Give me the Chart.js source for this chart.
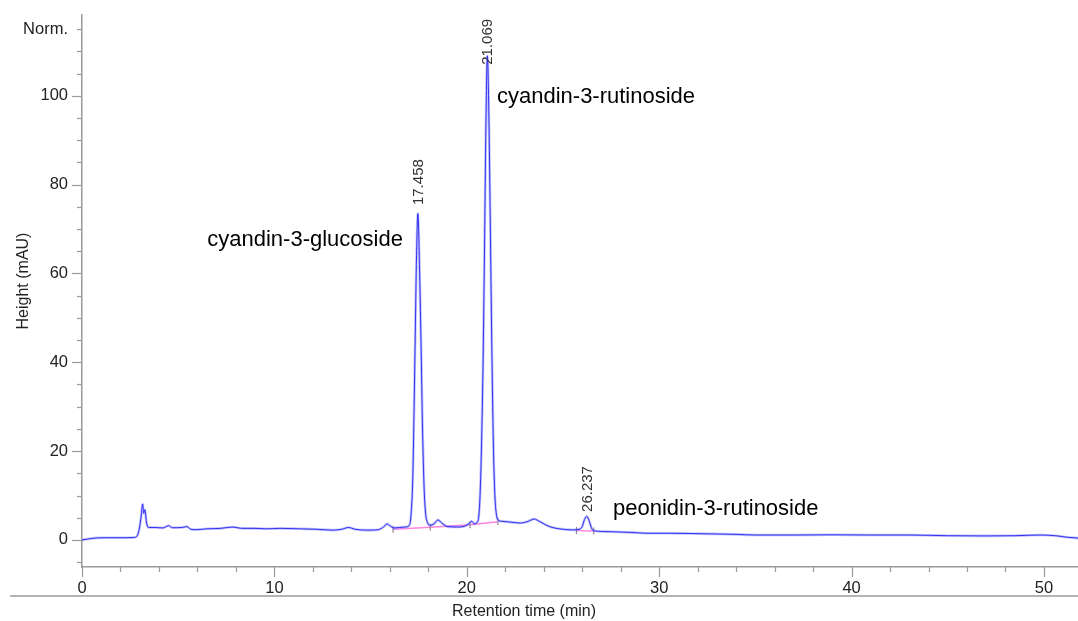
<!DOCTYPE html>
<html><head><meta charset="utf-8">
<script src="https://cdn.jsdelivr.net/npm/chart.js@4.4.1/dist/chart.umd.min.js"></script>
<style>html,body{margin:0;padding:0;background:#fff;} canvas{display:block;}</style>
</head><body>
<canvas id="c" width="1078" height="621"></canvas>
<script>
// Retention time (min)
const times = [0.0,0.3,0.8,1.5,2.2,2.7,2.85,2.98,3.08,3.15,3.21,3.27,3.35,3.45,3.8,4.2,4.5,4.7,5.2,5.45,5.65,5.9,6.5,7.2,7.85,8.3,9.0,9.6,10.3,11.3,12.2,13.0,13.5,13.85,14.2,14.8,15.4,15.7,15.85,16.0,16.2,16.5,16.8,17.0,17.1,17.2,17.3,17.38,17.46,17.54,17.62,17.7,17.78,17.86,17.95,18.1,18.3,18.5,18.7,19.0,19.5,19.9,20.15,20.25,20.4,20.52,20.6,20.68,20.76,20.84,20.92,21.0,21.07,21.14,21.22,21.3,21.38,21.46,21.55,21.65,21.8,22.3,22.8,23.2,23.5,23.8,24.3,24.8,25.5,25.85,26.0,26.12,26.24,26.36,26.5,26.7,27.5,28.5,29.4,30.5,31.5,32.8,34.0,35.0,37.0,39.0,41.0,43.0,45.0,47.0,48.5,49.8,50.6,51.2,51.8];
// Height (mAU)
const signal = [0.0,0.2,0.45,0.5,0.5,0.55,0.8,2.5,5.5,8.1,6.0,6.8,4.0,2.8,2.8,2.7,3.2,2.75,2.8,3.0,2.4,2.3,2.5,2.6,2.9,2.6,2.6,2.5,2.6,2.5,2.4,2.2,2.4,2.8,2.4,2.2,2.3,3.0,3.6,3.2,2.7,2.8,2.9,3.2,5.5,15,40,62,73.5,62,45,25,12,6,4,3.3,3.6,4.5,3.8,3.0,2.9,3.1,3.8,4.2,3.6,3.9,4.6,9,20,38,65,95,109,98,72,44,22,10,5.5,4.4,4.2,4.0,3.8,4.2,4.7,4.1,3.0,2.5,2.25,2.4,3.0,4.6,5.3,4.3,2.5,2.0,1.85,1.7,1.5,1.5,1.45,1.35,1.25,1.1,1.1,1.15,1.1,1.1,0.95,0.9,0.95,1.1,0.95,0.6,0.4];
// Integration baselines
const baseline1Times = [16.17,18.1,20.17,21.62];
const baseline1Values = [2.4,2.85,3.4,4.1];
const baseline2Times = [25.7,26.6];
const baseline2Values = [2.1,2.0];
const dropTimes = [16.17,18.1,20.17,21.62,25.7,26.6];
const dropValues = [2.4,2.85,3.4,4.1,2.1,2.0];
// Peaks
const peakTimes = [17.458,21.069,26.237];
const peakLabels = ['17.458','21.069','26.237'];
const compoundNames = ['cyandin-3-glucoside','cyandin-3-rutinoside','peonidin-3-rutinoside'];
// Tick labels
const xTickLabels = [0,10,20,30,40,50];
const yTickLabels = [0,20,40,60,80,100];
const yTopLabel = 'Norm.';
const xTitle = 'Retention time (min)';
const yTitle = 'Height (mAU)';

const FONT = '"Liberation Sans", Arial, sans-serif';
const pts = (xs, ys) => xs.map((t, i) => ({x: t, y: ys[i]}));
const isInt = v => Math.abs(v - Math.round(v)) < 1e-6;

const extras = {
  id: 'extras',
  afterDraw(chart) {
    const ctx = chart.ctx;
    const xs = chart.scales.x, ys = chart.scales.y;
    ctx.save();
    // tick marks
    ctx.strokeStyle = '#9a9a9a';
    ctx.lineWidth = 1.2;
    const axY = ys.bottom, axX = xs.left;
    xs.ticks.forEach(t => {
      const px = Math.round(xs.getPixelForValue(t.value)) + 0.5;
      const major = isInt(t.value) && xTickLabels.includes(Math.round(t.value));
      ctx.beginPath(); ctx.moveTo(px, axY); ctx.lineTo(px, axY + (major ? 10 : 5)); ctx.stroke();
    });
    ys.ticks.forEach(t => {
      const py = Math.round(ys.getPixelForValue(t.value)) + 0.5;
      const major = isInt(t.value) && yTickLabels.includes(Math.round(t.value));
      ctx.beginPath(); ctx.moveTo(axX, py); ctx.lineTo(axX - (major ? 10 : 5), py); ctx.stroke();
    });
    // separator line
    ctx.strokeStyle = '#b4b4b4';
    ctx.lineWidth = 2;
    ctx.beginPath(); ctx.moveTo(10, 596); ctx.lineTo(1078, 596); ctx.stroke();
    // axis titles
    ctx.fillStyle = '#222';
    ctx.font = '16px ' + FONT;
    ctx.textAlign = 'center'; ctx.textBaseline = 'middle';
    ctx.fillText(xTitle, 524, 612);
    ctx.save();
    ctx.translate(24, 281); ctx.rotate(-Math.PI / 2);
    ctx.fillText(yTitle, 0, 0);
    ctx.restore();
    // peak retention time labels (rotated)
    const peakLabelBase = [75.4, 107, 6.3];
    ctx.font = '15px ' + FONT;
    ctx.fillStyle = '#333';
    peakTimes.forEach((t, i) => {
      const px = xs.getPixelForValue(t) + 1;
      const py = ys.getPixelForValue(peakLabelBase[i]);
      ctx.save();
      ctx.translate(px, py); ctx.rotate(-Math.PI / 2);
      ctx.textAlign = 'left'; ctx.textBaseline = 'middle';
      ctx.fillText(peakLabels[i], 0, 0);
      ctx.restore();
    });
    // compound names
    const anchors = [[16.68, 67.6, 'right'], [21.57, 99.75, 'left'], [27.6, 7.0, 'left']];
    ctx.font = '22px ' + FONT;
    ctx.fillStyle = '#000';
    compoundNames.forEach((n, i) => {
      const [t, v, al] = anchors[i];
      ctx.textAlign = al; ctx.textBaseline = 'middle';
      ctx.fillText(n, xs.getPixelForValue(t), ys.getPixelForValue(v));
    });
    ctx.restore();
  }
};

new Chart(document.getElementById('c'), {
  type: 'line',
  data: {
    datasets: [
      {data: pts(times, signal), borderColor: 'rgba(25,25,235,0.85)', borderWidth: 1, pointRadius: 0, cubicInterpolationMode: 'monotone'},
      {data: pts(times, signal), borderColor: 'rgba(120,120,255,0.45)', borderWidth: 2.6, pointRadius: 0, cubicInterpolationMode: 'monotone'},
      {data: pts(dropTimes, dropValues), showLine: false, pointStyle: 'line', rotation: 90, pointRadius: 3.5, borderColor: '#8a8a8a', borderWidth: 1.2},
      {data: pts(baseline1Times, baseline1Values), borderColor: 'rgba(255,110,220,0.85)', borderWidth: 1.4, pointRadius: 0},
      {data: pts(baseline2Times, baseline2Values), borderColor: 'rgba(255,110,220,0.85)', borderWidth: 1.4, pointRadius: 0}
    ]
  },
  options: {
    responsive: false,
    animation: false,
    events: [],
    layout: {autoPadding: false, padding: {top: 15, right: 0, left: 0, bottom: 0}},
    plugins: {legend: {display: false}, tooltip: {enabled: false}},
    scales: {
      x: {
        type: 'linear', min: 0, max: 51.77,
        afterFit: s => { s.height = 54; s.paddingLeft = 0; s.paddingRight = 0; },
        grid: {display: true, drawOnChartArea: false, drawTicks: true, tickLength: 10, tickColor: 'rgba(0,0,0,0)'},
        border: {display: true, color: '#9a9a9a', width: 1.5},
        ticks: {stepSize: 2, includeBounds: false, autoSkip: false, maxRotation: 0, padding: 2, color: '#222',
          font: {family: FONT, size: 16.5},
          callback: v => isInt(v) && xTickLabels.includes(Math.round(v)) ? String(Math.round(v)) : ''}
      },
      y: {
        type: 'linear', min: -6.1, max: 118.2,
        afterFit: s => { s.width = 82; s.paddingTop = 0; s.paddingBottom = 0; },
        grid: {display: true, drawOnChartArea: false, drawTicks: true, tickLength: 10, tickColor: 'rgba(0,0,0,0)'},
        border: {display: true, color: '#9a9a9a', width: 1.5},
        ticks: {stepSize: 5, includeBounds: false, autoSkip: false, padding: 4, color: '#222',
          font: {family: FONT, size: 16.5},
          callback: v => {
            if (!isInt(v)) return '';
            const r = Math.round(v);
            if (r === 115) return yTopLabel;
            return yTickLabels.includes(r) ? String(r) : '';
          }}
      }
    }
  },
  plugins: [extras]
});
</script>
</body></html>
